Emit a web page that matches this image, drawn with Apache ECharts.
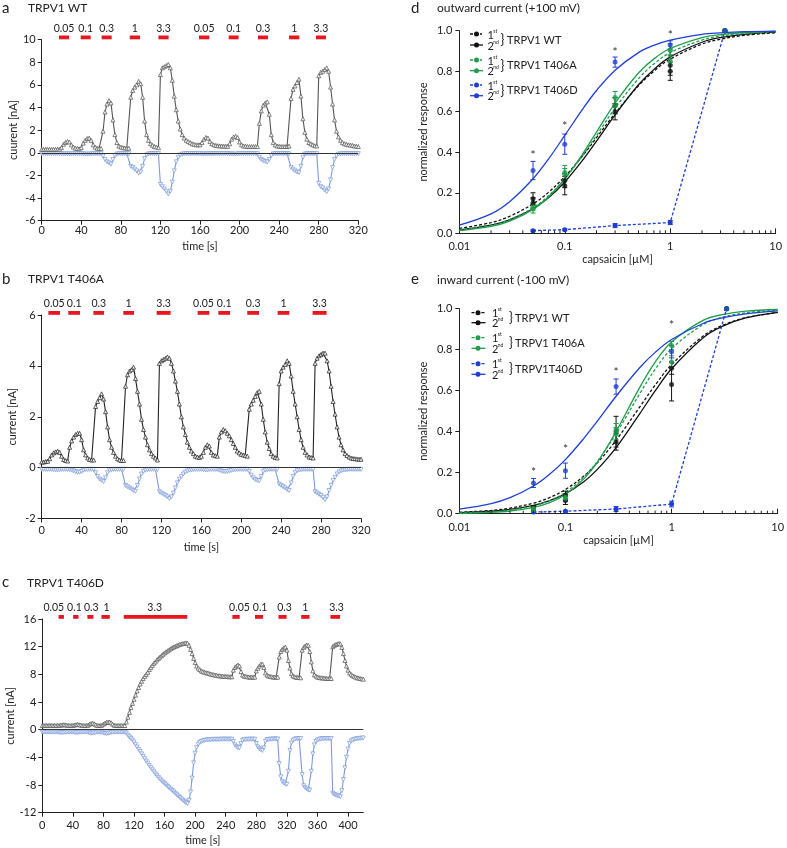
<!DOCTYPE html>
<html><head><meta charset="utf-8">
<script src="https://cdn.jsdelivr.net/npm/echarts@6/dist/echarts.min.js"></script>
<style>html,body{margin:0;padding:0;background:#fff}#c{width:787px;height:848px}</style>
</head><body><div id="c"></div>
<script>
// ---------- panel a: TRPV1 WT, 2 s sampling ----------
const aStep = 2;
const aOut = [0.3,0.3,0.3,0.3,0.3,0.3,0.3,0.3,0.3,0.32,
0.45,0.75,0.9,1.0,0.95,0.7,0.5,0.4,0.38,0.35,
0.45,0.85,1.1,1.25,1.3,1.1,0.7,0.5,0.4,0.38,
0.38,1.9,3.6,4.3,4.6,4.4,2.9,1.6,0.9,0.6,
0.5,0.45,0.42,0.4,0.4,4.9,5.5,5.8,6.0,6.3,
6.1,4.9,2.8,1.6,1.1,0.8,0.65,0.55,0.5,0.45,
6.9,7.5,7.6,7.7,7.8,7.5,6.4,5.0,3.8,2.8,
2.1,1.6,1.3,1.1,1.0,0.9,0.8,0.75,0.7,0.7,
0.7,0.9,1.2,1.35,1.3,1.0,0.8,0.7,0.65,0.62,
0.6,0.6,0.58,0.58,0.57,0.8,1.2,1.4,1.45,1.35,
0.95,0.7,0.6,0.58,0.55,0.55,0.55,0.55,0.55,0.55,
2.6,3.7,4.2,4.4,4.5,3.4,1.6,0.9,0.7,0.6,
0.58,0.55,0.55,0.55,0.55,0.6,4.8,5.6,5.9,6.2,
6.5,5.0,3.0,1.8,1.2,0.9,0.8,0.7,0.62,0.6,
6.8,7.1,7.2,7.35,7.5,7.2,5.8,4.3,2.9,1.9,
1.4,1.1,0.9,0.8,0.75,0.7,0.68,0.65,0.6,0.58,
0.55];
const aIn = [-0.08,-0.08,-0.08,-0.08,-0.08,-0.08,-0.08,-0.08,-0.08,-0.08,
-0.08,-0.1,-0.1,-0.1,-0.1,-0.1,-0.08,-0.08,-0.08,-0.08,
-0.08,-0.1,-0.12,-0.12,-0.12,-0.1,-0.08,-0.08,-0.08,-0.08,
-0.08,-0.3,-0.6,-0.8,-0.9,-1.0,-0.6,-0.25,-0.12,-0.08,
-0.08,-0.08,-0.08,-0.08,-0.08,-1.2,-1.3,-1.45,-1.6,-1.8,
-1.7,-1.2,-0.5,-0.2,-0.1,-0.08,-0.08,-0.08,-0.08,-0.08,
-2.8,-3.0,-3.2,-3.4,-3.65,-3.4,-2.6,-1.6,-0.8,-0.4,
-0.2,-0.12,-0.1,-0.08,-0.08,-0.08,-0.08,-0.08,-0.08,-0.08,
-0.08,-0.1,-0.1,-0.1,-0.1,-0.08,-0.08,-0.08,-0.08,-0.08,
-0.08,-0.08,-0.08,-0.08,-0.08,-0.1,-0.1,-0.12,-0.12,-0.1,
-0.08,-0.08,-0.08,-0.08,-0.08,-0.08,-0.08,-0.08,-0.08,-0.08,
-0.4,-0.6,-0.7,-0.78,-0.82,-0.6,-0.25,-0.1,-0.08,-0.08,
-0.08,-0.08,-0.08,-0.08,-0.08,-0.1,-1.3,-1.45,-1.6,-1.7,
-1.75,-1.2,-0.4,-0.12,-0.08,-0.08,-0.08,-0.08,-0.08,-0.08,
-2.7,-3.0,-3.1,-3.3,-3.45,-3.2,-2.4,-1.3,-0.6,-0.25,
-0.12,-0.1,-0.08,-0.08,-0.08,-0.08,-0.08,-0.08,-0.08,-0.08,
-0.08];
const aBarStart = [17.5,39.4,60.6,89,118,159,189,218.6,250,277.2];
const aBarEnd   = [27.6,49.5,70.7,99.4,128.3,169.4,199,228.7,260.4,287.3];

// ---------- panel b: TRPV1 T406A ----------
const bStep = 2;
const bOut = [0.22,0.22,0.24,0.25,0.35,0.5,0.58,0.62,0.65,0.6,
0.45,0.32,0.28,0.26,0.8,1.05,1.2,1.3,1.35,1.35,
1.1,0.7,0.5,0.38,0.32,0.3,0.3,2.4,2.6,2.75,
2.9,2.7,2.2,1.6,1.1,0.8,0.6,0.45,0.35,0.3,
0.28,0.28,3.2,3.65,3.8,3.85,3.95,3.5,3.0,2.5,
1.9,1.5,1.2,0.9,0.7,0.55,0.45,0.38,0.3,4.1,
4.2,4.25,4.3,4.35,4.3,4.1,3.8,3.4,3.0,2.5,
2.0,1.6,1.3,1.0,0.8,0.65,0.55,0.45,0.42,0.4,
0.45,0.6,0.8,0.9,0.85,0.6,0.5,0.47,0.45,1.2,
1.4,1.5,1.45,1.35,1.25,1.1,0.95,0.8,0.65,0.58,
0.52,0.5,0.48,0.45,2.3,2.5,2.65,2.8,2.95,3.0,
2.5,1.9,1.4,1.0,0.75,0.55,0.45,0.4,0.38,3.3,
3.8,3.95,4.05,4.2,4.1,3.6,3.0,2.5,2.0,1.5,
1.1,0.8,0.6,0.5,0.42,0.4,0.38,4.1,4.3,4.4,
4.45,4.5,4.5,4.2,3.8,3.2,2.6,2.1,1.6,1.2,
0.9,0.7,0.55,0.48,0.42,0.38,0.36,0.35,0.34,0.33,
0.33];
const bIn = [-0.07,-0.07,-0.07,-0.07,-0.07,-0.07,-0.08,-0.09,-0.09,-0.08,
-0.07,-0.07,-0.07,-0.07,-0.08,-0.1,-0.13,-0.16,-0.18,-0.18,
-0.15,-0.1,-0.08,-0.07,-0.07,-0.07,-0.07,-0.2,-0.35,-0.45,
-0.5,-0.55,-0.4,-0.2,-0.1,-0.08,-0.07,-0.07,-0.07,-0.07,
-0.07,-0.07,-0.7,-0.75,-0.8,-0.85,-0.9,-0.93,-0.7,-0.45,
-0.25,-0.15,-0.1,-0.08,-0.07,-0.07,-0.07,-0.07,-0.07,-0.95,
-1.0,-1.05,-1.1,-1.15,-1.22,-1.15,-1.0,-0.8,-0.6,-0.45,
-0.35,-0.25,-0.18,-0.13,-0.1,-0.09,-0.08,-0.07,-0.07,-0.07,
-0.07,-0.08,-0.09,-0.09,-0.08,-0.07,-0.07,-0.07,-0.07,-0.1,
-0.13,-0.15,-0.16,-0.15,-0.13,-0.11,-0.09,-0.08,-0.07,-0.07,
-0.07,-0.07,-0.07,-0.07,-0.15,-0.3,-0.4,-0.47,-0.5,-0.52,
-0.35,-0.15,-0.1,-0.08,-0.07,-0.07,-0.07,-0.07,-0.07,-0.65,
-0.7,-0.75,-0.8,-0.86,-0.9,-0.6,-0.35,-0.2,-0.12,-0.09,
-0.08,-0.07,-0.07,-0.07,-0.07,-0.07,-0.07,-0.95,-1.0,-1.05,
-1.1,-1.18,-1.26,-1.15,-0.9,-0.7,-0.5,-0.38,-0.25,-0.17,
-0.13,-0.1,-0.09,-0.08,-0.07,-0.07,-0.07,-0.07,-0.07,-0.07,
-0.07];
const bBarStart = [6.7,26.7,51.8,81.8,115.2,156.3,177,206,236.5,271.5];
const bBarEnd   = [18.4,38.4,62.5,92.5,129.2,168,188.8,217.8,248.2,285.5];

// ---------- panel c: TRPV1 T406D ----------
const cStep = 2;
const cOut = [0.6,0.6,0.62,0.6,0.6,0.62,0.6,0.6,0.6,0.6,
0.6,0.62,0.65,0.7,0.72,0.7,0.65,0.62,0.6,0.6,
0.62,0.68,0.72,0.75,0.72,0.68,0.62,0.6,0.6,0.6,
0.65,0.8,0.9,0.92,0.85,0.7,0.62,0.6,0.6,0.65,
0.8,0.95,1.05,1.1,1.1,1.0,0.8,0.65,0.6,0.6,
0.6,0.6,0.6,0.6,0.6,1.1,1.8,2.5,3.2,3.8,
4.4,5.0,5.6,6.1,6.6,7.0,7.4,7.7,8.0,8.3,
8.7,9.0,9.3,9.6,9.8,10.1,10.3,10.5,10.7,10.9,
11.1,11.25,11.4,11.55,11.7,11.85,11.95,12.05,12.15,12.25,
12.35,12.4,12.45,12.5,12.55,12.5,12.2,11.6,11.0,10.3,
9.7,9.2,8.9,8.7,8.5,8.4,8.3,8.25,8.2,8.15,
8.05,8.0,7.95,7.9,7.85,7.8,7.8,7.75,7.75,7.7,
7.7,7.7,7.65,7.65,7.65,8.6,9.0,9.2,9.35,9.2,
8.4,7.9,7.75,7.7,7.65,7.62,7.6,7.6,7.6,7.6,
8.5,8.9,9.2,9.45,9.5,9.0,8.2,7.9,7.75,7.7,
7.65,7.62,7.6,7.6,7.6,10.5,11.3,11.6,11.8,11.95,
11.5,10.0,8.9,8.1,7.8,7.65,7.6,7.55,7.55,7.5,
11.5,11.9,12.1,12.25,12.2,11.3,9.8,8.5,7.95,7.75,
7.6,7.55,7.5,7.5,7.45,7.45,7.4,7.4,7.4,7.4,
12.0,12.2,12.3,12.4,12.45,12.4,11.9,11.0,10.0,9.2,
8.6,8.2,8.0,7.8,7.7,7.6,7.5,7.45,7.4,7.35,
7.3];
const cIn = [-0.35,-0.35,-0.35,-0.35,-0.35,-0.35,-0.35,-0.35,-0.35,-0.35,
-0.35,-0.38,-0.4,-0.42,-0.4,-0.38,-0.36,-0.35,-0.35,-0.35,
-0.35,-0.38,-0.4,-0.4,-0.38,-0.36,-0.35,-0.35,-0.35,-0.35,
-0.38,-0.45,-0.5,-0.48,-0.42,-0.38,-0.35,-0.35,-0.35,-0.38,
-0.45,-0.52,-0.55,-0.52,-0.45,-0.4,-0.36,-0.35,-0.35,-0.35,
-0.35,-0.35,-0.35,-0.35,-0.35,-0.5,-0.8,-1.05,-1.25,-1.5,
-1.8,-2.15,-2.5,-2.85,-3.15,-3.5,-3.85,-4.2,-4.55,-4.85,
-5.2,-5.5,-5.8,-6.1,-6.4,-6.65,-6.9,-7.15,-7.4,-7.6,
-7.8,-8.0,-8.2,-8.4,-8.6,-8.8,-9.0,-9.2,-9.4,-9.6,
-9.8,-10.0,-10.2,-10.4,-10.55,-10.7,-10.2,-9.0,-7.0,-4.8,
-3.4,-2.6,-2.1,-1.85,-1.7,-1.6,-1.55,-1.5,-1.48,-1.45,
-1.45,-1.42,-1.4,-1.4,-1.4,-1.4,-1.4,-1.38,-1.38,-1.38,
-1.38,-1.38,-1.38,-1.38,-1.38,-1.7,-2.2,-2.45,-2.6,-2.6,
-2.0,-1.55,-1.45,-1.4,-1.4,-1.4,-1.38,-1.38,-1.38,-1.38,
-2.0,-2.5,-2.75,-2.9,-3.0,-2.6,-1.7,-1.45,-1.4,-1.38,
-1.38,-1.35,-1.35,-1.35,-1.35,-4.9,-6.8,-7.5,-7.7,-7.85,
-7.9,-6.0,-3.0,-1.9,-1.55,-1.4,-1.3,-1.3,-1.28,-1.28,
-6.5,-8.1,-8.4,-8.55,-8.7,-8.75,-6.0,-3.5,-2.2,-1.7,
-1.5,-1.4,-1.35,-1.3,-1.3,-1.28,-1.28,-1.28,-1.28,-1.28,
-9.2,-9.35,-9.45,-9.55,-9.6,-9.7,-8.8,-7.2,-5.5,-4.0,
-2.8,-2.0,-1.65,-1.5,-1.4,-1.35,-1.3,-1.28,-1.25,-1.22,
-1.2];
const cBarStart = [21.3,40.4,59,77.4,106.5,248.7,278.3,309,338.7,377];
const cBarEnd   = [28.3,47.4,66.9,88.3,189.6,258.3,288.7,319.6,349.6,389.6];
const cLabelAt  = [15,42,64,84,147,258,285,317,344,385];
const barLabels = ['0.05','0.1','0.3','1','3.3','0.05','0.1','0.3','1','3.3'];

// ---------- panels d/e: dose-response ----------
const doseX = [0.05,0.1,0.3,1,3.3];
const fitX  = [0.01,0.02,0.03,0.05,0.07,0.1,0.15,0.2,0.3,0.5,0.7,1,2,3,5,10];
const minorTicks = [0.02,0.03,0.04,0.05,0.06,0.07,0.08,0.09,0.2,0.3,0.4,0.5,0.6,0.7,0.8,0.9,2,3,4,5,6,7,8,9];

// d: outward (+100 mV)
const dWT1 = [0.17,0.26,0.63,0.83,1.0],    dWT1e = [0.03,0.035,0.04,0.05,0];
const dWT2 = [0.15,0.235,0.60,0.80,1.0],   dWT2e = [0.025,0.045,0.04,0.045,0];
const dA1  = [0.12,0.30,0.67,0.85,1.0],    dA1e  = [0.02,0.035,0.03,0.05,0];
const dA2  = [0.13,0.29,0.63,0.905,1.0],   dA2e  = [0.015,0.03,0.04,0.03,0];
const dD1  = [0.013,0.018,0.038,0.053,1.0],dD1e  = [0.005,0.005,0.01,0.01,0];
const dD2  = [0.31,0.44,0.845,0.93,1.0],   dD2e  = [0.045,0.05,0.025,0.02,0];
const dStar = [0.395,0.54,0.905,0.99];
const dFitWT1 = [0.024,0.053,0.084,0.145,0.202,0.28,0.387,0.472,0.592,0.728,0.80,0.86,0.934,0.958,0.977,0.99];
const dFitWT2 = [0.017,0.040,0.066,0.121,0.175,0.253,0.365,0.455,0.585,0.733,0.809,0.871,0.943,0.966,0.982,0.993];
const dFitA1  = [0.016,0.040,0.068,0.126,0.185,0.269,0.389,0.483,0.618,0.763,0.836,0.892,0.954,0.973,0.986,0.995];
const dFitA2  = [0.013,0.034,0.060,0.118,0.179,0.268,0.397,0.5,0.643,0.791,0.861,0.912,0.966,0.981,0.991,0.997];
const dFitD2  = [0.040,0.096,0.156,0.269,0.366,0.483,0.618,0.705,0.805,0.892,0.928,0.954,0.982,0.989,0.995,0.998];

// e: inward (-100 mV)
const eWT1 = [0.03,0.09,0.40,0.71,1.0],    eWT1e = [0.01,0.02,0.075,0.03,0];
const eWT2 = [0.025,0.065,0.35,0.63,1.0],  eWT2e = [0.01,0.02,0.04,0.08,0];
const eA1  = [0.02,0.08,0.41,0.82,1.0],    eA1e  = [0.01,0.015,0.03,0.02,0];
const eA2  = [0.025,0.075,0.39,0.74,1.0],  eA2e  = [0.01,0.015,0.03,0.03,0];
const eD1  = [0.008,0.012,0.023,0.047,1.0],eD1e  = [0.004,0.004,0.012,0.014,0];
const eD2  = [0.15,0.21,0.62,0.79,1.0],    eD2e  = [0.022,0.037,0.037,0.03,0];
const eStar = [0.213,0.327,0.70,0.93];
const eFitWT1 = [0.0067,0.0162,0.0272,0.0515,0.0776,0.118,0.185,0.248,0.358,0.52,0.627,0.727,0.868,0.918,0.956,0.982];
const eFitWT2 = [0.0048,0.012,0.0208,0.041,0.0625,0.0975,0.157,0.216,0.322,0.487,0.599,0.707,0.86,0.914,0.955,0.982];
const eFitA1  = [0.0033,0.0095,0.0177,0.0383,0.063,0.104,0.18,0.255,0.39,0.585,0.704,0.805,0.924,0.958,0.98,0.993];
const eFitA2  = [0.002,0.0067,0.0132,0.031,0.053,0.094,0.171,0.251,0.401,0.615,0.739,0.838,0.944,0.971,0.988,0.996];
const eFitD2  = [0.022,0.049,0.078,0.135,0.19,0.264,0.369,0.452,0.573,0.712,0.787,0.85,0.929,0.955,0.975,0.989];

// ---------- styling ----------
const F = 'Lato, "Open Sans", sans-serif';
const AX = '#222';
const GRAY = '#555', DARK = '#222', LBLUE = '#7d9bd9', RED = '#e8161e';
const BLK = '#111', GRN = '#1f9e4a', BLU = '#1e3fd6';

const chart = echarts.init(document.getElementById('c'), null, {renderer: 'canvas'});

function pairs(arr, step) { return arr.map((v, i) => [i * step, v]); }

function xTime(gi, max, margin, gap) {
  return {gridIndex: gi, type: 'value', min: 0, max: max, interval: 40,
    name: 'time [s]', nameLocation: 'middle', nameGap: gap,
    nameTextStyle: {color: AX, fontSize: 11, fontFamily: F},
    axisLine: {show: true, onZero: false, lineStyle: {color: AX, width: 1}},
    axisTick: {show: true, inside: false, length: 4, lineStyle: {color: AX}},
    axisLabel: {color: AX, fontSize: 11, fontFamily: F, margin: margin, showMaxLabel: max % 40 === 0},
    splitLine: {show: false}};
}
function yCur(gi, min, max, interval, name, gap) {
  return {gridIndex: gi, type: 'value', min: min, max: max, interval: interval,
    name: name, nameLocation: 'middle', nameGap: gap,
    nameTextStyle: {color: AX, fontSize: 11, fontFamily: F},
    axisLine: {show: true, onZero: false, lineStyle: {color: AX, width: 1}},
    axisTick: {show: true, length: 4, lineStyle: {color: AX}},
    axisLabel: {color: AX, fontSize: 11, fontFamily: F, margin: 6},
    splitLine: {show: false}};
}
function xLog(gi) {
  return {gridIndex: gi, type: 'log', logBase: 10, min: 0.01, max: 10, splitNumber: 3,
    name: 'capsaicin [\u00b5M]', nameLocation: 'middle', nameGap: 21,
    nameTextStyle: {color: AX, fontSize: 11, fontFamily: F},
    axisLine: {show: true, onZero: false, lineStyle: {color: AX, width: 1}},
    axisTick: {show: true, inside: true, length: 5, lineStyle: {color: AX}},
    axisLabel: {color: AX, fontSize: 11, fontFamily: F, margin: 8,
      formatter: v => String(+(+v).toPrecision(3))},
    splitLine: {show: false}, minorTick: {show: false}};
}
function yNorm(gi) {
  return {gridIndex: gi, type: 'value', min: 0, max: 1, interval: 0.2,
    name: 'normalized response', nameLocation: 'middle', nameGap: 30,
    nameTextStyle: {color: AX, fontSize: 11, fontFamily: F},
    axisLine: {show: true, onZero: false, lineStyle: {color: AX, width: 1}},
    axisTick: {show: true, length: 4, lineStyle: {color: AX}},
    axisLabel: {color: AX, fontSize: 11, fontFamily: F, margin: 7, formatter: v => v.toFixed(1)},
    splitLine: {show: false}};
}

function trace(gi, arr, step, color, inward, withZero) {
  const s = {type: 'line', xAxisIndex: gi, yAxisIndex: gi, data: pairs(arr, step),
    symbol: 'triangle', symbolSize: 4, symbolRotate: inward ? 180 : 0, showSymbol: true,
    lineStyle: {color: color, width: 1.1}, itemStyle: {color: '#ffffff', borderColor: color, borderWidth: 0.8, opacity: 0.9},
    silent: true, z: inward ? 3 : 4};
  if (withZero) {
    s.markLine = {silent: true, symbol: ['none', 'none'], label: {show: false},
      lineStyle: {color: '#333', type: 'solid', width: 1}, data: [{yAxis: 0}]};
  }
  return s;
}

function appBars(gi, starts, ends, labelAt, yTop) {
  return {type: 'custom', xAxisIndex: gi, yAxisIndex: gi, clip: false, silent: true, z: 10,
    data: starts.map((s, i) => [s, ends[i]]),
    encode: {x: [0, 1]},
    renderItem: (p, api) => {
      const i = p.dataIndex;
      const a = api.coord([api.value(0), yTop]);
      const b = api.coord([api.value(1), yTop]);
      const lx = labelAt ? api.coord([labelAt[i], yTop])[0] : (a[0] + b[0]) / 2;
      return {type: 'group', children: [
        {type: 'rect', shape: {x: a[0], y: a[1] - 4, width: b[0] - a[0], height: 3.8}, style: {fill: RED}},
        {type: 'text', x: lx, y: a[1] - 11, style: {text: barLabels[i], fill: AX, fontSize: 10.5, fontFamily: F,
          align: 'center', verticalAlign: 'middle', textAlign: 'center', textVerticalAlign: 'middle'}}
      ]};
    }};
}

function fitLine(gi, ys, color, dashed) {
  return {type: 'line', xAxisIndex: gi, yAxisIndex: gi, data: fitX.map((x, i) => [x, ys[i]]),
    smooth: 0.35, showSymbol: false, symbol: 'none', silent: true, z: 2,
    lineStyle: {color: color, width: 1.3, type: dashed ? [3, 2] : 'solid'}};
}
function points(gi, means, color) {
  return {type: 'scatter', xAxisIndex: gi, yAxisIndex: gi, data: doseX.map((x, i) => [x, means[i]]),
    symbol: 'circle', symbolSize: 5, itemStyle: {color: color}, silent: true, z: 5};
}
function errBars(gi, means, sems, color) {
  return {type: 'custom', xAxisIndex: gi, yAxisIndex: gi, silent: true, z: 4, clip: false,
    data: doseX.map((x, i) => [x, means[i], sems[i]]),
    encode: {x: 0, y: 1},
    renderItem: (p, api) => {
      const x = api.value(0), m = api.value(1), s = api.value(2);
      if (!s) return null;
      const lo = api.coord([x, m - s]), hi = api.coord([x, m + s]);
      const st = {stroke: color, lineWidth: 1};
      return {type: 'group', children: [
        {type: 'line', shape: {x1: lo[0], y1: lo[1], x2: hi[0], y2: hi[1]}, style: st},
        {type: 'line', shape: {x1: lo[0] - 2.5, y1: lo[1], x2: lo[0] + 2.5, y2: lo[1]}, style: st},
        {type: 'line', shape: {x1: hi[0] - 2.5, y1: hi[1], x2: hi[0] + 2.5, y2: hi[1]}, style: st}
      ]};
    }};
}
function dataLine(gi, means, color) {
  return {type: 'line', xAxisIndex: gi, yAxisIndex: gi, data: doseX.map((x, i) => [x, means[i]]),
    symbol: 'circle', symbolSize: 5, showSymbol: true, silent: true, z: 3,
    lineStyle: {color: color, width: 1.3, type: [3, 2]}, itemStyle: {color: color}};
}
function stars(gi, ys) {
  return {type: 'custom', xAxisIndex: gi, yAxisIndex: gi, silent: true, clip: false, z: 6,
    data: doseX.slice(0, ys.length).map((x, i) => [x, ys[i]]),
    encode: {x: 0, y: 1},
    renderItem: (p, api) => {
      const c = api.coord([api.value(0), api.value(1)]);
      return {type: 'text', x: c[0], y: c[1] + 2, style: {text: '*', fill: '#333', fontSize: 12, fontFamily: F,
        align: 'center', verticalAlign: 'middle', textAlign: 'center', textVerticalAlign: 'middle'}};
    }};
}
function minor(gi) {
  return {type: 'custom', xAxisIndex: gi, yAxisIndex: gi, silent: true, clip: false, z: 6,
    data: minorTicks.map(v => [v, 0]), encode: {x: 0, y: 1},
    renderItem: (p, api) => {
      const c = api.coord([api.value(0), 0]);
      return {type: 'line', shape: {x1: c[0], y1: c[1], x2: c[0], y2: c[1] - 3}, style: {stroke: AX, lineWidth: 1}};
    }};
}
function doseSeries(gi, g) {
  return [
    fitLine(gi, g.fWT1, BLK, true), fitLine(gi, g.fWT2, BLK, false),
    fitLine(gi, g.fA1, GRN, true), fitLine(gi, g.fA2, GRN, false),
    fitLine(gi, g.fD2, BLU, false),
    dataLine(gi, g.D1, BLU),
    errBars(gi, g.WT1, g.WT1e, BLK), errBars(gi, g.WT2, g.WT2e, BLK),
    errBars(gi, g.A1, g.A1e, GRN), errBars(gi, g.A2, g.A2e, GRN),
    errBars(gi, g.D1, g.D1e, BLU), errBars(gi, g.D2, g.D2e, BLU),
    points(gi, g.WT1, BLK), points(gi, g.WT2, BLK),
    points(gi, g.A1, GRN), points(gi, g.A2, GRN),
    points(gi, g.D2, BLU),
    stars(gi, g.star), minor(gi)
  ];
}

// ---------- text & legends (graphic) ----------
function txt(x, y, text, size, opts) {
  return Object.assign({type: 'text', x: x, y: y, silent: true,
    style: Object.assign({text: text, fill: AX, fontSize: size, fontFamily: F,
      align: 'left', verticalAlign: 'middle', textAlign: 'left', textVerticalAlign: 'middle'}, opts || {})});
}
function legend(lx0, lx1, mx, nx, bx, tx, rows) {
  const els = [];
  rows.forEach(r => {
    els.push({type: 'line', silent: true, shape: {x1: lx0, y1: r.y1, x2: lx1, y2: r.y1}, style: {stroke: r.c, lineWidth: 1.3, lineDash: [3, 2]}});
    els.push({type: 'circle', silent: true, shape: {cx: mx, cy: r.y1, r: 2.5}, style: {fill: r.c}});
    els.push({type: 'line', silent: true, shape: {x1: lx0, y1: r.y2, x2: lx1 + 1, y2: r.y2}, style: {stroke: r.c, lineWidth: 1.3}});
    els.push({type: 'circle', silent: true, shape: {cx: mx, cy: r.y2, r: 2.5}, style: {fill: r.c}});
    els.push(txt(nx, r.y1 + 1, '1', 11));
    els.push(txt(nx + 5.8, r.y1 - 3, 'st', 5));
    els.push(txt(nx, r.y2 + 1, '2', 11));
    els.push(txt(nx + 5.8, r.y2 - 3, 'nd', 5));
    els.push(txt(bx, (r.y1 + r.y2) / 2, '}', 13));
    els.push(txt(tx, (r.y1 + r.y2) / 2 + 0.5, r.t, 11));
  });
  return els;
}

const graphics = [
  txt(2, 8, 'a', 15), txt(28, 8.5, 'TRPV1 WT', 12),
  txt(2, 279, 'b', 15), txt(28, 279.5, 'TRPV1 T406A', 12),
  txt(2, 582, 'c', 15), txt(27, 583, 'TRPV1 T406D', 12),
  txt(411, 8, 'd', 15), txt(437, 8.5, 'outward current (+100 mV)', 12),
  txt(411, 279, 'e', 15), txt(437, 280, 'inward current (-100 mV)', 12)
].concat(
  legend(470, 482, 476.5, 487.5, 500.5, 507, [
    {y1: 34, y2: 45, c: BLK, t: 'TRPV1 WT'},
    {y1: 60, y2: 70.7, c: GRN, t: 'TRPV1 T406A'},
    {y1: 85, y2: 95.7, c: BLU, t: 'TRPV1 T406D'}]),
  legend(471.5, 484.5, 478, 492, 509, 515, [
    {y1: 312.7, y2: 322.7, c: BLK, t: 'TRPV1 WT'},
    {y1: 337.7, y2: 348.3, c: GRN, t: 'TRPV1 T406A'},
    {y1: 363.7, y2: 374.3, c: BLU, t: 'TRPV1T406D'}])
);

const gridBase = {containLabel: false, outerBoundsMode: 'none', show: false};
const option = {
  animation: false,
  backgroundColor: '#fff',
  textStyle: {fontFamily: F},
  grid: [
    Object.assign({left: 41.7, top: 39.5, width: 316.6, height: 181.2}, gridBase),
    Object.assign({left: 41.7, top: 315, width: 319.3, height: 203.5}, gridBase),
    Object.assign({left: 42.3, top: 619, width: 321, height: 193.7}, gridBase),
    Object.assign({left: 459.3, top: 30.7, width: 316.4, height: 202.6}, gridBase),
    Object.assign({left: 459.3, top: 308.7, width: 318.4, height: 205}, gridBase)
  ],
  xAxis: [xTime(0, 320, 4, 20), xTime(1, 320, 6, 23), xTime(2, 420, 7, 22), xLog(3), xLog(4)],
  yAxis: [yCur(0, -6, 10, 2, 'cuurent [nA]', 23), yCur(1, -2, 6, 2, 'current [nA]', 24),
          yCur(2, -12, 16, 4, 'current [nA]', 24), yNorm(3), yNorm(4)],
  graphic: {elements: graphics},
  series: [
    trace(0, aIn, aStep, LBLUE, true, false), trace(0, aOut, aStep, GRAY, false, true),
    appBars(0, aBarStart, aBarEnd, null, 10),
    trace(1, bIn, bStep, LBLUE, true, false), trace(1, bOut, bStep, DARK, false, true),
    appBars(1, bBarStart, bBarEnd, null, 6),
    trace(2, cIn, cStep, LBLUE, true, false), trace(2, cOut, cStep, GRAY, false, true),
    appBars(2, cBarStart, cBarEnd, cLabelAt, 16)
  ].concat(
    doseSeries(3, {WT1: dWT1, WT1e: dWT1e, WT2: dWT2, WT2e: dWT2e, A1: dA1, A1e: dA1e, A2: dA2, A2e: dA2e,
      D1: dD1, D1e: dD1e, D2: dD2, D2e: dD2e, star: dStar,
      fWT1: dFitWT1, fWT2: dFitWT2, fA1: dFitA1, fA2: dFitA2, fD2: dFitD2}),
    doseSeries(4, {WT1: eWT1, WT1e: eWT1e, WT2: eWT2, WT2e: eWT2e, A1: eA1, A1e: eA1e, A2: eA2, A2e: eA2e,
      D1: eD1, D1e: eD1e, D2: eD2, D2e: eD2e, star: eStar,
      fWT1: eFitWT1, fWT2: eFitWT2, fA1: eFitA1, fA2: eFitA2, fD2: eFitD2})
  )
};
chart.setOption(option);
</script>
</body></html>
